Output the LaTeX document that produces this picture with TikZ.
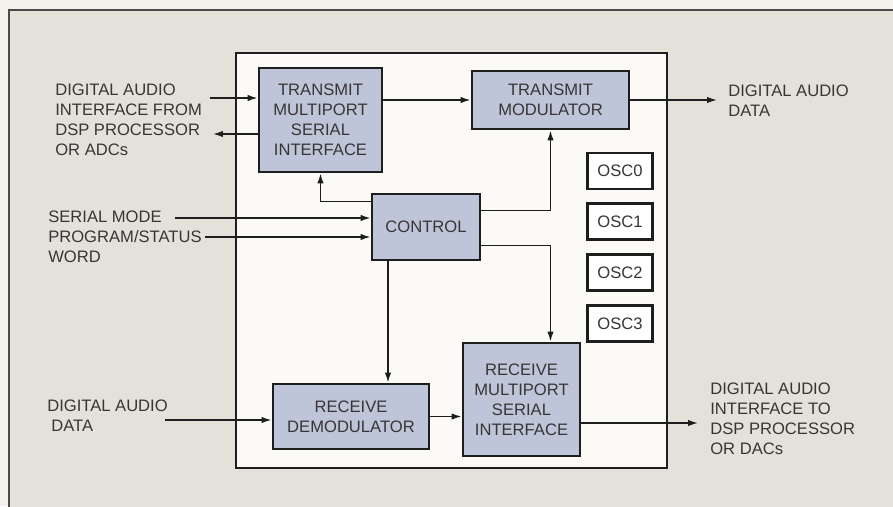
\documentclass[tikz,border=0pt]{standalone}
\usepackage{fontspec}
\setmainfont{Liberation Sans}
\usetikzlibrary{arrows.meta, positioning, calc}
\definecolor{paper}{HTML}{F3F1EC}
\definecolor{panel}{HTML}{E4E1DA}
\definecolor{chipfill}{HTML}{FBFAF6}
\definecolor{blockfill}{HTML}{BFC5D8}
\definecolor{ink}{HTML}{1E1E1E}
\definecolor{textgray}{HTML}{363636}

\begin{document}
\begin{tikzpicture}[
    x=0.025cm, y=-0.025cm,
    font=\fontsize{11.8pt}{14.2pt}\selectfont,
    node distance=0.3cm,
    block/.style={rectangle, draw=ink, fill=blockfill, line width=2pt,
                  text=textgray, align=center, inner sep=0pt},
    osc/.style={rectangle, draw=ink, fill=white, line width=2pt, text=textgray,
                minimum width=1.625cm, minimum height=0.9cm},
    arr/.style={-{Latex[length=7pt, width=4.5pt]}, line width=1pt, draw=ink},
    caption/.style={align=left, anchor=north west, inner sep=0pt, text=textgray}
]
% Background
\clip (0,0) rectangle (893,506);
\fill[paper] (0,0) rectangle (893,506);
\draw[ink!80, line width=1.2pt, fill=panel] (9,10) rectangle (920,530);
\draw[ink, line width=2pt, fill=chipfill] (236,53) rectangle (667,468);

% Nodes
\node[block, minimum width=3.075cm, minimum height=2.6cm] (txmps) at (320.5,120)
    {TRANSMIT\\MULTIPORT\\SERIAL\\INTERFACE};
\node[block, minimum width=3.925cm, minimum height=1.45cm] (txmod) at (550.5,100)
    {TRANSMIT\\MODULATOR};
\node[block, minimum width=2.7cm, minimum height=1.65cm] (ctrl) at (426,227)
    {CONTROL};
\node[block, minimum width=3.9cm, minimum height=1.625cm] (rdemod) at (351,416.5)
    {RECEIVE\\DEMODULATOR};
\node[block, minimum width=2.925cm, minimum height=2.825cm] (rxmps) at (521.5,399.5)
    {RECEIVE\\MULTIPORT\\SERIAL\\INTERFACE};
\node[osc] (osc0) at (620,171) {OSC0};
\node[osc, below=of osc0] (osc1) {OSC1};
\node[osc, below=of osc1] (osc2) {OSC2};
\node[osc, below=of osc2] (osc3) {OSC3};

% Labels
\node[caption] (txlabel) at (55,84) {DIGITAL AUDIO\\INTERFACE FROM\\DSP PROCESSOR\\OR ADCs};
\node[caption] (smlabel) at (48,211) {SERIAL MODE\\PROGRAM/STATUS\\WORD};
\node[caption] (rxinlabel) at (47,400) {DIGITAL AUDIO\\\hspace*{0.1cm}DATA};
\node[caption] (mdlabel) at (728,85) {DIGITAL AUDIO\\DATA};
\node[caption] (rxlabel) at (710,383) {DIGITAL AUDIO\\INTERFACE TO\\DSP PROCESSOR\\OR DACs};

% Free ends
\coordinate (txin) at (210,98);
\coordinate (txout) at (213,134);
\coordinate (mdout) at (717,100);
\coordinate (smin) at (175,218);
\coordinate (psin) at (205,237);
\coordinate (rxin) at (165,420);
\coordinate (rxout) at (698,423);
\coordinate (ctrlb) at ($(ctrl.south)+(-38,0)$);

% Arrows
\draw[arr] (txin) -- (txin -| txmps.west);
\draw[arr] (txout -| txmps.west) -- (txout);
\draw[arr] (txmps.east |- txmod.west) -- (txmod.west);
\draw[arr] (txmod.east) -- (mdout);
\draw[arr] ($(ctrl.north west)+(0,9)$) -| (txmps.south);
\draw[arr] (smin) -- (smin -| ctrl.west);
\draw[arr] (psin) -- (psin -| ctrl.west);
\draw[arr] ($(ctrl.north east)+(0,18)$) -| (txmod.south);
\draw[arr] ($(ctrl.south east)+(0,-16)$) -| (txmod.south |- rxmps.north);
\draw[arr] (ctrlb) -- (ctrlb |- rdemod.north);
\draw[arr] (rxin) -- (rxin -| rdemod.west);
\draw[arr] (rdemod.east) -- (rdemod.east -| rxmps.west);
\draw[arr] (rxout -| rxmps.east) -- (rxout);
\end{tikzpicture}
\end{document}
